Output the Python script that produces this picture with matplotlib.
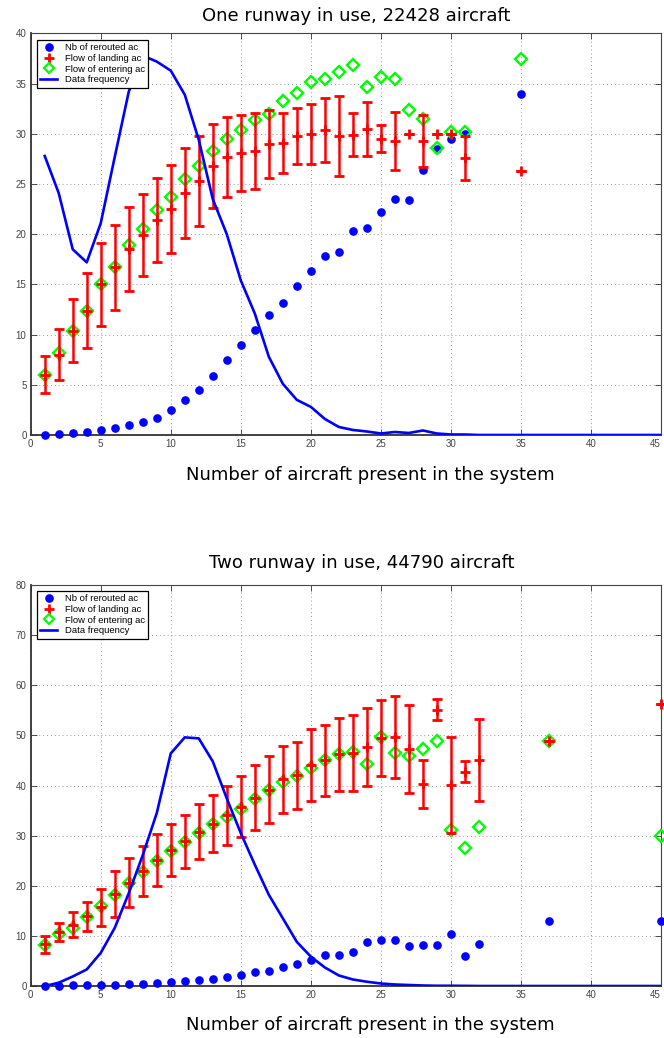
import matplotlib
matplotlib.use("Agg")
import matplotlib.pyplot as plt
from matplotlib.lines import Line2D
import numpy as np

# ---------------- Data: top chart (one runway) ----------------
top_x = list(range(1, 32)) + [35]
top_rerouted = [0.0, 0.05, 0.15, 0.3, 0.5, 0.67, 1.0, 1.3, 1.7, 2.5, 3.5, 4.5, 5.9, 7.5, 9.0,
                10.5, 12.0, 13.2, 14.8, 16.3, 17.8, 18.2, 20.3, 20.6, 22.2, 23.5, 23.4, 26.4,
                28.5, 29.5, 30.0, 34.0]
top_landing = [6.0, 8.0, 10.4, 12.4, 15.0, 16.7, 18.5, 19.9, 21.4, 22.5, 24.1, 25.3, 26.8, 27.7,
               28.1, 28.3, 29.0, 29.1, 29.8, 30.0, 30.4, 29.8, 29.9, 30.5, 29.5, 29.3, 30.0,
               29.3, 30.0, 30.0, 27.6, 26.3]
top_landing_err = [1.85, 2.55, 3.15, 3.7, 4.1, 4.2, 4.2, 4.1, 4.2, 4.35, 4.5, 4.5, 4.2, 4.0, 3.8,
                   3.8, 3.4, 3.0, 2.8, 3.0, 3.2, 3.95, 2.15, 2.7, 1.35, 2.9, 0.0, 2.6, 0.0, 0.0,
                   2.15, 0.0]
top_entering = [6.0, 8.2, 10.4, 12.4, 15.0, 16.7, 18.9, 20.5, 22.4, 23.7, 25.5, 26.8, 28.3, 29.5,
                30.4, 31.4, 32.0, 33.3, 34.1, 35.2, 35.5, 36.2, 36.9, 34.7, 35.7, 35.5, 32.4,
                31.5, 28.6, 30.2, 30.2, 37.5]
freq_x = list(range(1, 46))
top_freq = [27.8, 24.1, 18.5, 17.2, 21.1, 27.7, 34.2, 37.8, 37.2, 36.3, 33.9, 29.4, 23.5, 20.0,
            15.4, 12.1, 7.8, 5.1, 3.5, 2.8, 1.6, 0.8, 0.5, 0.35, 0.15, 0.3, 0.2, 0.45, 0.15,
            0.05, 0.05, 0, 0, 0, 0, 0, 0, 0, 0, 0, 0, 0, 0, 0, 0]

# ---------------- Data: bottom chart (two runways) ----------------
bot_x = list(range(1, 33)) + [37, 45]
bot_rerouted = [0.0, 0.05, 0.1, 0.1, 0.15, 0.2, 0.3, 0.4, 0.65, 0.8, 0.9, 1.2, 1.4, 1.7, 2.1,
                2.7, 3.0, 3.7, 4.3, 5.1, 6.1, 6.25, 6.85, 8.7, 9.2, 9.2, 8.05, 8.2, 8.2, 10.3,
                5.9, 8.45, 12.9, 12.9]
bot_landing = [8.3, 10.7, 12.2, 13.9, 15.7, 18.4, 20.6, 23.0, 25.2, 27.2, 28.9, 30.8, 32.4, 34.1,
               35.8, 37.6, 39.2, 41.2, 42.0, 44.1, 45.0, 46.2, 46.5, 47.7, 49.5, 49.7, 47.3,
               40.3, 55.1, 40.1, 42.7, 45.1, 48.9, 56.3]
bot_landing_err = [1.7, 1.8, 2.5, 2.9, 3.7, 4.6, 4.9, 5.0, 5.2, 5.2, 5.3, 5.5, 5.7, 5.9, 6.0,
                   6.4, 6.6, 6.7, 6.7, 7.2, 7.0, 7.2, 7.6, 7.7, 7.6, 8.2, 8.8, 4.8, 2.1, 9.5,
                   2.1, 8.1, 0.0, 0.0]
bot_entering = [8.2, 10.3, 11.5, 13.8, 16.0, 18.2, 20.5, 22.7, 25.0, 27.0, 28.7, 30.5, 32.3,
                33.8, 35.3, 37.3, 39.1, 40.6, 41.9, 43.4, 45.1, 46.3, 46.6, 44.3, 49.6, 46.4,
                45.8, 47.3, 48.8, 31.1, 27.5, 31.8, 48.8, 29.9]
bot_freq = [0.0, 0.65, 1.9, 3.3, 6.6, 11.6, 18.5, 26.1, 34.5, 46.4, 49.6, 49.4, 44.8, 37.4, 30.5,
            24.2, 18.2, 13.5, 8.8, 5.85, 3.7, 2.1, 1.3, 0.85, 0.5, 0.3, 0.2, 0.1, 0.05, 0.05,
            0.03, 0, 0, 0, 0, 0, 0, 0, 0, 0, 0, 0, 0, 0, 0]

titles = ["One runway in use, 22428 aircraft", "Two runway in use, 44790 aircraft"]
xlabel = "Number of aircraft present in the system"
legend_labels = ["Nb of rerouted ac", "Flow of landing ac", "Flow of entering ac", "Data frequency"]
x_ticks = list(range(0, 50, 5))
top_yticks = list(range(0, 45, 5))
bot_yticks = list(range(0, 90, 10))

BLUE = (0, 0, 1)
RED = (1, 0, 0)
GREEN = (0, 1, 0)

W, H = 664, 1038
fig = plt.figure(figsize=(W / 100, H / 100), dpi=100)
fig.patch.set_facecolor("white")

def px_axes(left, top, right, bottom):
    return fig.add_axes([left / W, 1 - bottom / H, (right - left) / W, (bottom - top) / H])

def style(ax, yticks, ymax):
    ax.set_xlim(0, 45)
    ax.set_ylim(0, ymax)
    ax.set_xticks(x_ticks)
    ax.set_yticks(yticks)
    ax.grid(True, color="#9a9a9a", linestyle=(0, (1, 3)), linewidth=0.7)
    ax.set_axisbelow(True)
    ax.tick_params(direction="in", top=True, right=True, length=4, width=0.6,
                   labelsize=7, labelcolor="#444444", color="#333333", pad=3)
    for lab in ax.get_xticklabels() + ax.get_yticklabels():
        lab.set_fontfamily("Liberation Sans")
    # keep the last x tick label (45) inside the figure edge
    ax.get_xticklabels()[-1].set_horizontalalignment("right")
    for s in ["left", "bottom"]:
        ax.spines[s].set_linewidth(1.3)
        ax.spines[s].set_color("#333333")
    for s in ["top", "right"]:
        ax.spines[s].set_linewidth(0.8)
        ax.spines[s].set_color("#444444")

def draw(ax, xs, rer, land, lerr, ent, freq):
    ax.plot(xs, rer, linestyle="none", marker="o", markersize=5.2, color=BLUE,
            zorder=3, clip_on=False)
    ax.plot(xs, ent, linestyle="none", marker="D", markersize=6.0, markerfacecolor="none",
            markeredgecolor=GREEN, markeredgewidth=1.7, zorder=4, clip_on=False)
    ax.errorbar(xs, land, yerr=lerr, fmt="+", color=RED, ecolor=RED, elinewidth=1.8,
                capsize=3.8, capthick=1.8, markersize=7, markeredgewidth=2.0,
                zorder=5, clip_on=False)
    ax.plot(freq_x, freq, color=BLUE, linewidth=1.9, zorder=6)

def add_legend(ax, top_frac):
    handles = [
        Line2D([], [], linestyle="none", marker="o", markersize=5.2, color=BLUE),
        Line2D([], [], linestyle="none", marker="+", markersize=7, markeredgewidth=2.0, color=RED),
        Line2D([], [], linestyle="none", marker="D", markersize=5.5, markerfacecolor="none",
               markeredgecolor=GREEN, markeredgewidth=1.6),
        Line2D([], [], color=BLUE, linewidth=1.9),
    ]
    leg = ax.legend(handles, legend_labels, loc="upper left", bbox_to_anchor=(0.01, top_frac),
                    borderaxespad=0, frameon=True, fancybox=False, framealpha=1,
                    edgecolor="black", prop={"family": "Liberation Sans", "size": 6.8},
                    handlelength=1.8, handletextpad=0.8, labelspacing=0.18, borderpad=0.35)
    leg.get_frame().set_linewidth(0.9)
    leg.set_zorder(10)

# top chart
ax1 = px_axes(30.7, 33.5, 661, 435)
style(ax1, top_yticks, 40)
draw(ax1, top_x, top_rerouted, top_landing, top_landing_err, top_entering, top_freq)
add_legend(ax1, 0.984)

# bottom chart
ax2 = px_axes(30.7, 585, 661, 986)
style(ax2, bot_yticks, 80)
draw(ax2, bot_x, bot_rerouted, bot_landing, bot_landing_err, bot_entering, bot_freq)
add_legend(ax2, 0.985)

# titles and labels
fig.text(356 / W, 1 - 16 / H, titles[0], ha="center", va="center", fontsize=13,
         family="DejaVu Sans")
fig.text(370 / W, 1 - 475 / H, xlabel, ha="center", va="center", fontsize=13,
         family="DejaVu Sans")
fig.text(362 / W, 1 - 563 / H, titles[1], ha="center", va="center", fontsize=13,
         family="DejaVu Sans")
fig.text(370 / W, 1 - 1025 / H, xlabel, ha="center", va="center", fontsize=13,
         family="DejaVu Sans")

fig.savefig("out.png", dpi=100, facecolor="white")
